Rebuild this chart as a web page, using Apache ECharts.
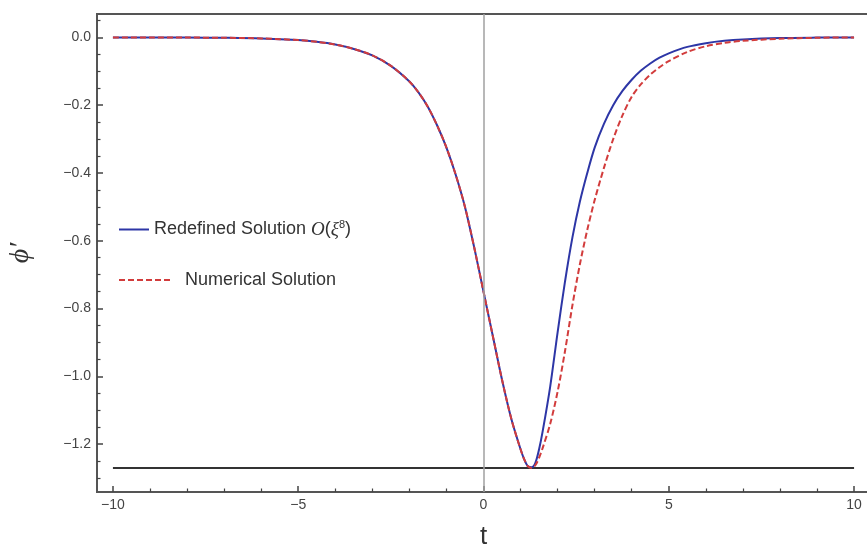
<!DOCTYPE html>
<html>
<head>
<meta charset="utf-8">
<script src="https://cdn.jsdelivr.net/npm/echarts@6.0.0/dist/echarts.min.js"></script>
<style>
  html, body { margin: 0; padding: 0; background: #fff; }
  #chart { width: 867px; height: 548px; }
</style>
</head>
<body>
<div id="chart"></div>
<script>
// values
const tValues = [-10, -9, -8, -7, -6, -5, -4.5, -4, -3.5, -3, -2.5, -2, -1.75, -1.5, -1.25, -1,
  -0.75, -0.5, -0.25, 0, 0.25, 0.5, 0.75, 1.0, 1.1, 1.2, 1.3, 1.4, 1.5, 1.6, 1.8, 2.0, 2.2, 2.4,
  2.6, 2.8, 3.0, 3.25, 3.5, 3.75, 4.0, 4.25, 4.5, 4.75, 5, 5.5, 6, 6.5, 7, 8, 9, 10];
const redefinedValues = [0, -0.0002, -0.0005, -0.0012, -0.003, -0.008, -0.013, -0.021, -0.034,
  -0.053, -0.084, -0.13, -0.163, -0.205, -0.26, -0.325,
  -0.405, -0.50, -0.62, -0.75, -0.88, -1.01, -1.125, -1.215, -1.245, -1.265, -1.268, -1.255, -1.215,
  -1.16, -1.03, -0.87, -0.72, -0.59,
  -0.485, -0.40, -0.325, -0.255, -0.20, -0.158, -0.125, -0.098, -0.077, -0.060, -0.047, -0.028,
  -0.017, -0.010, -0.006, -0.002, -0.0006, 0];
const numericalValues = [0, -0.0002, -0.0005, -0.0012, -0.003, -0.008, -0.013, -0.021, -0.034,
  -0.053, -0.084, -0.13, -0.163, -0.205, -0.26, -0.325,
  -0.405, -0.50, -0.62, -0.75, -0.88, -1.01, -1.125, -1.215, -1.245, -1.265, -1.27, -1.262, -1.24,
  -1.21, -1.14, -1.045, -0.925, -0.79,
  -0.67, -0.568, -0.48, -0.385, -0.30, -0.23, -0.175, -0.138, -0.11, -0.088, -0.07, -0.043,
  -0.026, -0.016, -0.010, -0.004, -0.0012, 0];
const floorX = [-10, 10];
const floorY = -1.27;

const xMajorTicks = [-10, -5, 0, 5, 10];
const xMinorTicks = [-9, -8, -7, -6, -4, -3, -2, -1, 1, 2, 3, 4, 6, 7, 8, 9];
const yMajorTicks = [0, -0.2, -0.4, -0.6, -0.8, -1.0, -1.2];
const yMinorTicks = [0.05, -0.05, -0.1, -0.15, -0.25, -0.3, -0.35, -0.45, -0.5, -0.55, -0.65, -0.7,
  -0.75, -0.85, -0.9, -0.95, -1.05, -1.1, -1.15, -1.25, -1.3];

const xRange = [-10.43, 10.43];
const yRange = [-1.341, 0.069];

const font = "'Liberation Sans', Arial, sans-serif";
const minus = (v) => String(v).replace('-', '\u2212');

var chartDom = document.getElementById("chart");
var myChart = echarts.init(chartDom);

const zip = (ys) => tValues.map((t, i) => [t, ys[i]]);

var option = {
  animation: false,
  grid: {
    left: 97,
    top: 14,
    width: 773,
    height: 478,
    containLabel: false,
    outerBoundsMode: "none",
    show: true,
    borderColor: "#555",
    borderWidth: 2,
  },
  legend: [
    {
      data: ["Redefined Solution O(ξ⁸)"],
      left: 113,
      top: 214,
      itemWidth: 30,
      itemHeight: 14,
      itemStyle: { opacity: 0 },
      formatter: () => "{n|Redefined Solution }{o|O}{n|(}{o|ξ}{s|8}{n|)}",
      textStyle: {
        color: "#333",
        padding: [0, 0, 0, 0],
        rich: {
          n: { fontSize: 18, fontFamily: font, color: "#333" },
          o: { fontSize: 19, fontFamily: "'Liberation Serif', serif", fontStyle: "italic", color: "#333" },
          s: { fontSize: 11, fontFamily: font, color: "#333", padding: [0, 0, 10, 0] },
        },
      },
    },
    {
      data: ["Numerical Solution"],
      left: 113,
      top: 266,
      itemWidth: 54,
      itemHeight: 14,
      itemStyle: { opacity: 0 },
      textStyle: {
        color: "#333",
        fontSize: 18,
        fontFamily: font,
        padding: [0, 0, 0, 7],
      },
    },
  ],
  xAxis: [
    {
      type: "value",
      min: xRange[0],
      max: xRange[1],
      position: "bottom",
      name: "t",
      nameLocation: "middle",
      nameGap: 32,
      nameTextStyle: { fontSize: 26, fontFamily: font, color: "#333" },
      axisLine: { show: false, onZero: false },
      splitLine: { show: false },
      axisTick: {
        inside: true,
        length: 6,
        customValues: xMajorTicks,
        lineStyle: { color: "#444", width: 1.5 },
      },
      axisLabel: {
        customValues: xMajorTicks,
        formatter: (v) => minus(v),
        fontSize: 14,
        fontFamily: font,
        color: "#444",
        margin: 6,
      },
    },
    {
      type: "value",
      min: xRange[0],
      max: xRange[1],
      position: "bottom",
      axisLine: { show: false, onZero: false },
      splitLine: { show: false },
      axisTick: {
        inside: true,
        length: 3.5,
        customValues: xMinorTicks,
        lineStyle: { color: "#444", width: 1.2 },
      },
      axisLabel: { show: false },
    },
  ],
  yAxis: [
    {
      type: "value",
      min: yRange[0],
      max: yRange[1],
      position: "left",
      name: "ϕ′",
      nameLocation: "middle",
      nameGap: 62,
      nameRotate: 90,
      nameTextStyle: {
        fontSize: 28,
        fontFamily: "'Liberation Serif', serif",
        fontStyle: "italic",
        color: "#333",
      },
      axisLine: { show: false, onZero: false },
      splitLine: { show: false },
      axisTick: {
        inside: true,
        length: 6,
        customValues: yMajorTicks,
        lineStyle: { color: "#444", width: 1.5 },
      },
      axisLabel: {
        customValues: yMajorTicks,
        formatter: (v) => minus(v.toFixed(1)),
        fontSize: 14,
        fontFamily: font,
        color: "#444",
        margin: 6,
      },
    },
    {
      type: "value",
      min: yRange[0],
      max: yRange[1],
      position: "left",
      axisLine: { show: false, onZero: false },
      splitLine: { show: false },
      axisTick: {
        inside: true,
        length: 3.5,
        customValues: yMinorTicks,
        lineStyle: { color: "#444", width: 1.2 },
      },
      axisLabel: { show: false },
    },
  ],
  series: [
    {
      name: "floor",
      type: "line",
      data: floorX.map((x) => [x, floorY]),
      symbol: "none",
      lineStyle: { color: "#333", width: 2 },
      z: 1,
      markLine: {
        silent: true,
        symbol: ["none", "none"],
        label: { show: false },
        lineStyle: { color: "#a0a0a0", width: 1.5, type: "solid" },
        data: [{ xAxis: 0 }],
      },
    },
    {
      name: "Redefined Solution O(ξ⁸)",
      type: "line",
      data: zip(redefinedValues),
      symbol: "none",
      smooth: 0.3,
      color: "#2d36a6",
      lineStyle: { color: "#2d36a6", width: 2 },
      z: 2,
    },
    {
      name: "Numerical Solution",
      type: "line",
      data: zip(numericalValues),
      symbol: "none",
      smooth: 0.3,
      color: "#d23c3c",
      lineStyle: { color: "#d23c3c", width: 2, type: [6, 3] },
      z: 3,
    },
  ],
};

myChart.setOption(option);
</script>
</body>
</html>
